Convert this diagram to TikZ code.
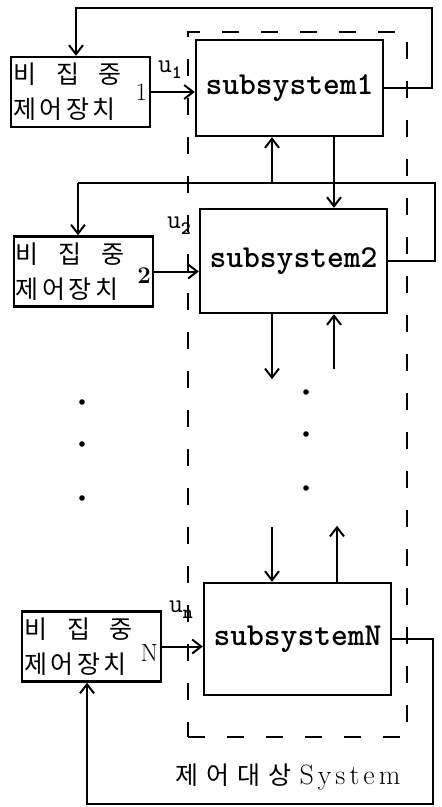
\documentclass[tikz,border=0pt]{standalone}
\usepackage{fontspec}
\usepackage{tikz}
\usetikzlibrary{arrows.meta,positioning}
\newfontfamily\hangul{Noto Sans CJK KR}
\newcommand{\ulab}[1]{{\fontsize{27}{27}\selectfont u}\raisebox{-6pt}{\fontsize{19}{19}\selectfont\bfseries #1}}
\newcommand{\ctrltext}{비\hspace{20pt}집\hspace{20pt}중\\[-2pt]제\hspace{3.5pt}어\hspace{3.5pt}장\hspace{3.5pt}치}

\begin{document}
\begin{tikzpicture}[x=1pt, y=-1pt, >={Straight Barb[length=9pt,width=14pt]},
  ctrlbox/.style={draw, line width=2.4pt, text width=135pt, inner xsep=2pt,
    inner ysep=0pt, minimum height=70pt, align=left,
    font=\hangul\fontsize{25}{37}\selectfont},
  subbox/.style={draw, line width=2.4pt, minimum width=187pt, inner sep=0pt,
    font=\ttfamily\bfseries\fontsize{32}{32}\selectfont},
  plantbox/.style={draw, line width=2pt, dash pattern=on 17pt off 22pt,
    minimum width=219pt, minimum height=705pt, inner sep=0pt},
  wire/.style={line width=2pt},
  idlab/.style={anchor=east, inner sep=0pt, font=\fontsize{25}{25}\selectfont},
  ulabel/.style={inner sep=0pt, font=\ttfamily}]
  \useasboundingbox (0,0) rectangle (442,807);
  % plant (dashed)
  \node[plantbox] (plant) at (297.5,384.5) {};
  \node[font=\hangul\fontsize{25}{25}\selectfont] (plantlab) at (288,777)
    {제\hspace{8pt}어\hspace{8pt}대\hspace{8pt}상\hspace{8pt}{\rmfamily\fontsize{28}{28}\selectfont S\kern4pt y\kern4pt s\kern4pt t\kern4pt e\kern4pt m}};
  % subsystems
  \node[subbox, minimum height=96pt] (sub1) at (289.5,88) {subsystem1};
  \node[subbox, minimum height=104pt] (sub2) at (293.5,261) {subsystem2};
  \node[subbox, minimum height=112pt] (subN) at (297.5,639) {subsystemN};
  % local controllers
  \node[ctrlbox] (ctrl1) at (80.5,92) {\ctrltext};
  \node[ctrlbox] (ctrl2) at (83.5,271.5) {\ctrltext};
  \node[ctrlbox] (ctrlN) at (91.5,646.5) {\ctrltext};
  \node[idlab] (id1) at ([xshift=-4pt]ctrl1.east) {1};
  \node[idlab, font=\bfseries\fontsize{24}{24}\selectfont] (id2) at ([xshift=-3pt,yshift=-4pt]ctrl2.east) {2};
  \node[idlab] (idN) at ([xshift=-4pt,yshift=-6pt]ctrlN.east) {N};
  % inputs
  \draw[wire,->] (ctrl1.east) -- (ctrl1.east -| sub1.west);
  \draw[wire,->] (ctrl2.east) -- (ctrl2.east -| sub2.west);
  \draw[wire,->] (ctrlN.east) -- (ctrlN.east -| subN.west);
  \node[ulabel] (u1) at (170,70) {\ulab{1}};
  \node[ulabel] (u2) at (179,226) {\ulab{2}};
  \node[ulabel] (uN) at (181,610) {\ulab{n}};
  % feedback of subsystem 1
  \coordinate (fb1a) at (432,8);
  \coordinate (fb1b) at (76,8);
  \draw[wire,->] (sub1.east) -| (fb1a) -- (fb1b) -- (fb1b |- ctrl1.north);
  % output of subsystem 2 back to controller 2 and subsystem 1
  \coordinate (bus2r) at (435,183);
  \coordinate (bus2l) at (78,183);
  \coordinate (colA) at (272,0);
  \coordinate (colB) at (334,0);
  \draw[wire] (sub2.east) -| (bus2r) -- (bus2l);
  \draw[wire,->] (bus2l) -- (bus2l |- ctrl2.north);
  \draw[wire,->] (colA |- bus2l) -- (colA |- sub1.south);
  \draw[wire,->] (colB |- sub1.south) -- (colB |- sub2.north);
  % links to the lower subsystems
  \draw[wire,->] (colA |- sub2.south) -- ++(0,65);
  \draw[wire,<-] (colB |- sub2.south) -- ++(0,55);
  \draw[wire,<-] (colA |- subN.north) -- ++(0,-55);
  \draw[wire,->] ([xshift=3pt]colB |- subN.north) -- ++(0,-56);
  \foreach \y in {402,444,498} \fill (82,\y) circle (2.8);
  \foreach \y in {392,434,488} \fill (306,\y) circle (2.8);
  % feedback of subsystem N
  \coordinate (fbNa) at (433,804);
  \coordinate (fbNb) at (87,804);
  \draw[wire,->] (subN.east) -| (fbNa) -- (fbNb) -- (fbNb |- ctrlN.south);
\end{tikzpicture}
\end{document}
